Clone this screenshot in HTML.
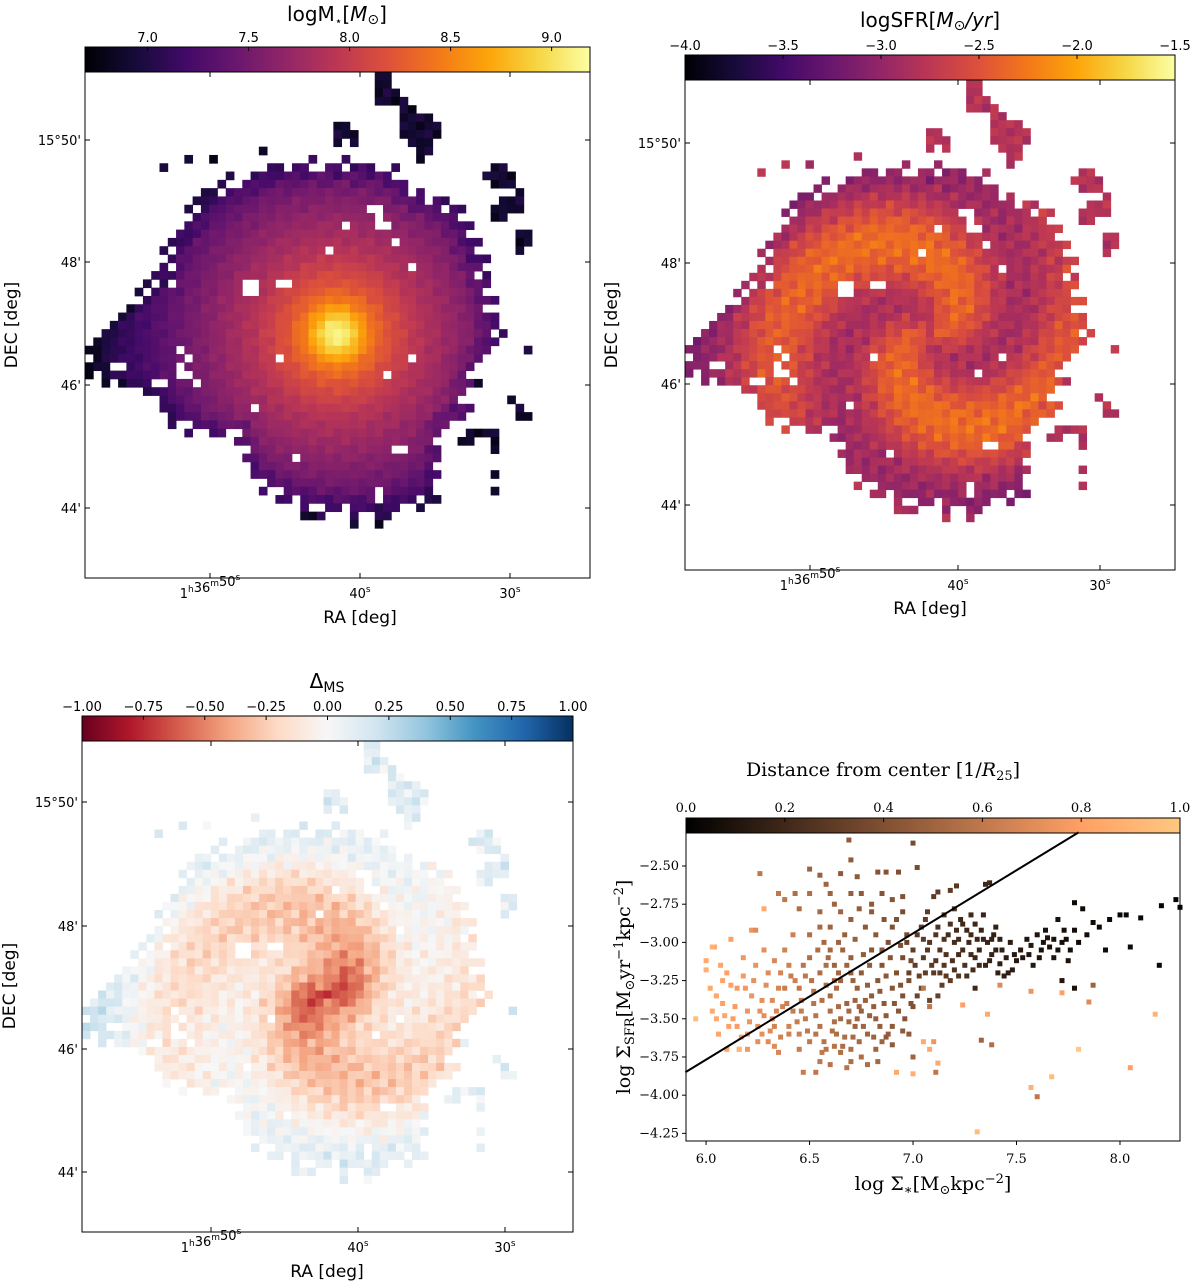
<!DOCTYPE html>
<html><head><meta charset="utf-8"><style>
body{margin:0;background:#fff}
svg{display:block}
.t{font-family:"DejaVu Sans","Liberation Sans",sans-serif;font-size:13px;fill:#000}
.ti{font-family:"DejaVu Sans","Liberation Sans",sans-serif;font-size:20px;fill:#000}
.al{font-family:"DejaVu Sans","Liberation Sans",sans-serif;font-size:17px;fill:#000}
.s{font-family:"DejaVu Serif","Liberation Serif",serif;font-size:13px;fill:#000}
.sl{font-family:"DejaVu Serif","Liberation Serif",serif;font-size:19px;fill:#000}
</style></head><body>
<svg id="fig" width="1200" height="1283" viewBox="0 0 1200 1283" xmlns="http://www.w3.org/2000/svg">
<defs>
<linearGradient id="ginf" x1="0" x2="1" y1="0" y2="0">
<stop offset="0" stop-color="#000004"/><stop offset=".1" stop-color="#160b39"/><stop offset=".2" stop-color="#420a68"/><stop offset=".3" stop-color="#6a176e"/><stop offset=".4" stop-color="#932667"/><stop offset=".5" stop-color="#bc3754"/><stop offset=".6" stop-color="#dd513a"/><stop offset=".7" stop-color="#f37819"/><stop offset=".8" stop-color="#fca50a"/><stop offset=".9" stop-color="#f6d746"/><stop offset="1" stop-color="#fcffa4"/>
</linearGradient>
<linearGradient id="grdbu" x1="0" x2="1" y1="0" y2="0">
<stop offset="0" stop-color="#67001f"/><stop offset=".1" stop-color="#b2182b"/><stop offset=".2" stop-color="#d6604d"/><stop offset=".3" stop-color="#f4a582"/><stop offset=".4" stop-color="#fddbc7"/><stop offset=".5" stop-color="#f7f7f7"/><stop offset=".6" stop-color="#d1e5f0"/><stop offset=".7" stop-color="#92c5de"/><stop offset=".8" stop-color="#4393c3"/><stop offset=".9" stop-color="#2166ac"/><stop offset="1" stop-color="#053061"/>
</linearGradient>
<linearGradient id="gcop" x1="0" x2="1" y1="0" y2="0">
<stop offset="0" stop-color="#000000"/><stop offset=".8" stop-color="#ffa065"/><stop offset="1" stop-color="#ffc77f"/>
</linearGradient>
</defs>

<text class="ti" x="337" y="21" text-anchor="middle">logM<tspan font-size="12" dy="4">⋆</tspan><tspan dy="-4">[</tspan><tspan font-style="italic">M</tspan><tspan font-size="14" dy="3">⊙</tspan><tspan dy="-3">]</tspan></text>
<rect x="85" y="47" width="505" height="25" fill="url(#ginf)" stroke="#000" stroke-width="1"/>
<g id="cb1ticks"></g>
<g id="map1"></g>
<rect x="85" y="72" width="505" height="506" fill="none" stroke="#000"/>
<g id="ax1"></g>
<text class="al" x="360" y="623" text-anchor="middle">RA [deg]</text>
<text class="al" transform="translate(17,325) rotate(-90)" text-anchor="middle">DEC [deg]</text>

<text class="ti" x="930" y="27" text-anchor="middle">logSFR[<tspan font-style="italic">M</tspan><tspan font-size="14" dy="3">⊙</tspan><tspan dy="-3" font-style="italic">/yr</tspan>]</text>
<rect x="685" y="55" width="490" height="25" fill="url(#ginf)" stroke="#000"/>
<g id="cb2ticks"></g>
<g id="map2"></g>
<rect x="685" y="80" width="490" height="490" fill="none" stroke="#000"/>
<g id="ax2"></g>
<text class="al" x="930" y="614" text-anchor="middle">RA [deg]</text>
<text class="al" transform="translate(617,325) rotate(-90)" text-anchor="middle">DEC [deg]</text>

<text class="ti" x="327" y="688" text-anchor="middle">Δ<tspan font-size="14" dy="4">MS</tspan></text>
<rect x="82" y="716" width="491" height="25" fill="url(#grdbu)" stroke="#000"/>
<g id="cb3ticks"></g>
<g id="map3"></g>
<rect x="82" y="741" width="491" height="491" fill="none" stroke="#000"/>
<g id="ax3"></g>
<text class="al" x="327" y="1277" text-anchor="middle">RA [deg]</text>
<text class="al" transform="translate(15,986) rotate(-90)" text-anchor="middle">DEC [deg]</text>

<text class="sl" x="883" y="776" text-anchor="middle">Distance from center [1/<tspan font-style="italic">R</tspan><tspan font-size="13" dy="4">25</tspan><tspan dy="-4">]</tspan></text>
<rect x="686" y="818" width="494" height="15" fill="url(#gcop)" stroke="#000"/>
<g id="cb4ticks"></g>
<g id="scat"></g>
<rect x="686" y="833" width="494" height="308" fill="none" stroke="#000"/>
<g id="ax4"></g>
<text class="sl" x="933" y="1190" text-anchor="middle">log Σ<tspan font-size="13" dy="4">∗</tspan><tspan dy="-4">[M</tspan><tspan font-size="13" dy="4">⊙</tspan><tspan dy="-4">kpc</tspan><tspan font-size="13" dy="-7">−2</tspan><tspan dy="7">]</tspan></text>
<text class="sl" transform="translate(630,987) rotate(-90)" text-anchor="middle">log Σ<tspan font-size="13" dy="4">SFR</tspan><tspan dy="-4">[M</tspan><tspan font-size="13" dy="4">⊙</tspan><tspan dy="-4">yr</tspan><tspan font-size="13" dy="-7">−1</tspan><tspan dy="7">kpc</tspan><tspan font-size="13" dy="-7">−2</tspan><tspan dy="7">]</tspan></text>
</svg>
<script>
const gridN = 61;
const centerCell = [30.4, 31.6];
const boundaryAngles = [0,15,30,45,60,75,90,105,120,135,150,165,173,182,190,197,210,225,240,255,270,285,300,315,330,345];
const boundaryRadii = [19.5,19.2,19.5,21,19.5,21,20.4,21,22,23,23,23,26,30,30,24,22,16.5,20,21,21.5,22.5,23,17.5,18,17];
const islandCells = [[35,0],[36,0],[35,1],[36,1],[35,2],[36,2],[37,2],[35,3],[36,3],[37,3],[38,3],[38,4],[39,4],[38,5],[39,5],[40,5],[41,5],[42,6],[38,6],[39,6],[40,6],[41,6],[38,7],[39,7],[40,7],[41,7],[42,7],[39,8],[40,8],[41,8],[40,9],[41,9],[40,10],[30,6],[31,6],[30,7],[31,7],[32,7],[30,8],[32,8],
[49,11],[50,11],[48,12],[49,12],[50,12],[51,12],[49,13],[50,13],[51,13],[52,14],[50,15],[51,15],[52,15],[49,16],[50,16],[51,16],[52,16],[49,17],[50,17],[52,19],[53,19],[52,20],[53,20],[52,21],
[47,37],[51,39],[52,40],[53,41],[52,41],[46,43],[47,43],[48,43],[49,43],[45,44],[46,44],[49,44],[49,45],[49,48],[49,50],[53,33],[26,53],[27,53],[32,54],[35,54],[21,9],[15,10],[12,10],[9,11]];
const holeCells = [[19,25],[20,25],[19,26],[20,26],[23,25],[24,25],[31,18],[34,16],[35,16],[35,17],[35,18],[36,18],[37,20],[29,21],[39,23],[23,34],[39,34],[36,36],[20,40],[25,46],[35,50],[35,51],[37,45],[38,45],[48,28],[11,33],[12,34],[11,35],[11,36],[12,36],[13,37],[10,23],[10,25],[3,35],[4,35],[8,37],[9,37]];
const profR = [0,2,4,6,10,15,20,25,30];
const massProfile = [9.2,8.9,8.45,8.2,7.9,7.65,7.4,7.15,7.0];
const sfrProfile = [-2.6,-2.6,-2.6,-2.6,-2.6,-2.6,-2.7,-2.85,-2.9];
const sfrArmAmp = [0.12,0.18,0.22,0.25,0.28,0.28,0.25,0.18,0.12];
const dmsProfile = [-0.65,-0.55,-0.45,-0.3,-0.2,-0.12,-0.02,0.06,0.15];
const dmsArmAmp = [0.08,0.12,0.12,0.12,0.12,0.12,0.12,0.1,0.08];

const sx=[],sy=[],sd=[];
const pts = [
[7.62,-3.05,.08],[7.65,-2.97,.1],[7.68,-3.1,.1],[7.7,-2.85,.08],[7.72,-3.0,.07],[7.75,-3.12,.09],[7.78,-2.92,.06],[7.8,-3.0,.05],[7.82,-2.78,.05],[7.84,-2.95,.06],[7.87,-2.87,.05],[7.9,-2.9,.04],[7.93,-3.05,.05],[7.95,-2.85,.04],[8.0,-2.82,.03],[8.03,-2.82,.03],[8.1,-2.84,.03],[8.2,-2.76,.02],[8.27,-2.72,.02],[8.29,-2.77,.02],[7.78,-2.74,.05],[7.56,-3.08,.1],[7.58,-3.15,.12],[7.6,-2.95,.1],[7.5,-3.12,.12],[7.52,-3.05,.12],[7.48,-3.18,.14],[7.45,-3.1,.14],[7.55,-2.98,.1],[7.63,-3.0,.09],[7.7,-3.05,.08],[7.73,-2.92,.07],[7.66,-3.03,.09],[7.42,-3.14,.15],[7.44,-3.22,.15],[7.4,-3.05,.16],[7.46,-3.2,.15],[7.72,-3.25,.1],[7.78,-3.3,.08],[8.05,-3.03,.05],[8.19,-3.15,.04],[7.3,-3.3,.2],
[7.0,-3.05,.3],[7.02,-2.95,.3],[7.05,-3.1,.28],[7.06,-2.85,.3],[7.08,-3.0,.27],[7.1,-3.2,.28],[7.12,-2.9,.25],[7.13,-3.05,.25],[7.15,-3.15,.27],[7.17,-2.95,.22],[7.18,-3.25,.3],[7.2,-3.0,.22],[7.22,-3.08,.22],[7.24,-2.88,.2],[7.25,-3.15,.24],[7.27,-3.0,.2],[7.28,-2.95,.2],[7.3,-3.1,.2],[7.32,-3.05,.18],[7.33,-2.92,.18],[7.35,-3.15,.18],[7.36,-3.0,.17],[7.38,-3.08,.17],[7.4,-2.9,.16],[7.42,-2.98,.16],[7.34,-2.82,.18],[7.23,-2.85,.2],[7.26,-3.22,.24],[7.14,-3.28,.3],[7.04,-3.3,.32],[7.08,-3.38,.34],[6.98,-3.2,.32],[6.97,-3.0,.33],[7.11,-3.12,.27],[7.19,-3.12,.24],[7.29,-3.18,.22],[7.21,-2.92,.22],[7.31,-2.98,.19],[7.2,-2.78,.25],[7.18,-2.66,.3],[7.1,-2.7,.3],[7.35,-2.62,.2],[7.07,-2.8,.3],
[6.45,-3.3,.6],[6.48,-3.5,.6],[6.5,-3.1,.55],[6.5,-3.65,.6],[6.52,-3.4,.58],[6.55,-3.2,.55],[6.55,-3.55,.57],[6.57,-3.0,.52],[6.58,-3.7,.58],[6.6,-3.35,.53],[6.6,-3.45,.55],[6.62,-3.15,.5],[6.63,-3.6,.55],[6.65,-3.25,.5],[6.65,-3.5,.52],[6.67,-2.95,.48],[6.68,-3.4,.5],[6.7,-3.7,.55],[6.7,-3.1,.47],[6.72,-3.55,.5],[6.73,-3.3,.47],[6.75,-3.2,.45],[6.75,-3.45,.48],[6.77,-2.9,.45],[6.78,-3.6,.5],[6.8,-3.35,.45],[6.8,-3.05,.43],[6.82,-3.5,.47],[6.83,-3.25,.43],[6.85,-3.15,.42],[6.86,-3.4,.44],[6.88,-3.0,.4],[6.88,-3.6,.47],[6.9,-3.3,.42],[6.9,-2.9,.4],[6.92,-3.2,.4],[6.93,-3.45,.43],[6.95,-3.1,.38],[6.95,-3.35,.4],[6.97,-2.95,.37],[6.98,-3.25,.38],[6.6,-3.8,.58],[6.65,-3.72,.55],[6.75,-3.75,.55],[6.85,-3.65,.5],[6.55,-3.78,.6],[6.45,-3.7,.62],[6.42,-3.45,.62],[6.4,-3.6,.65],[6.38,-3.3,.63],[6.6,-2.9,.5],[6.7,-2.85,.47],[6.8,-2.8,.45],[6.65,-2.8,.5],[6.55,-2.9,.53],[6.5,-2.95,.55],[6.92,-2.85,.4],[6.95,-2.8,.38],[6.62,-3.25,.52],[6.68,-3.15,.5],[6.72,-3.38,.5],[6.78,-3.28,.47],[6.58,-3.28,.55],[6.53,-3.6,.58],[6.62,-3.52,.55],[6.67,-3.62,.55],[6.74,-3.65,.52],[6.82,-3.7,.5],[6.9,-3.55,.45],[6.96,-3.5,.42],[6.47,-3.85,.62],[6.7,-3.78,.55],
[6.0,-3.12,.85],[6.0,-3.18,.88],[6.02,-3.3,.85],[6.03,-3.45,.85],[6.04,-3.03,.82],[6.06,-3.6,.83],[6.08,-3.4,.8],[6.1,-3.2,.8],[6.1,-3.7,.82],[6.12,-2.98,.8],[6.13,-3.5,.78],[6.15,-3.3,.77],[6.16,-3.7,.8],[6.18,-3.1,.76],[6.2,-3.45,.75],[6.2,-3.6,.76],[6.22,-2.92,.75],[6.23,-3.25,.73],[6.25,-3.55,.72],[6.27,-3.38,.72],[6.28,-3.05,.72],[6.3,-3.65,.7],[6.3,-3.2,.7],[6.32,-3.5,.68],[6.33,-3.12,.68],[6.35,-3.3,.67],[6.35,-3.72,.68],[6.37,-3.42,.66],[6.38,-3.05,.66],[6.4,-3.15,.65],[6.4,-3.55,.66],[6.42,-2.95,.64],[6.43,-3.25,.64],[6.45,-3.6,.64],[6.15,-3.55,.78],[6.25,-3.65,.72],[6.05,-3.5,.85],[6.08,-3.25,.82],[6.22,-3.35,.75],[6.28,-3.48,.72],[6.32,-3.38,.7],[6.18,-3.22,.77],[5.95,-3.5,.95],[6.03,-3.03,.9],[6.28,-2.78,.85],[6.16,-3.7,.92],[6.24,-2.92,.7],[6.35,-2.68,.6],[6.38,-2.72,.6],[6.26,-2.55,.6],
[6.5,-2.52,.5],[6.55,-2.56,.48],[6.65,-2.55,.45],[6.69,-2.33,.45],[6.7,-2.46,.45],[6.73,-2.57,.45],[6.83,-2.54,.42],[6.87,-2.54,.42],[6.93,-2.54,.4],[7.0,-2.35,.38],[7.02,-2.51,.38],[6.6,-2.68,.5],[6.7,-2.68,.47],[6.75,-2.68,.45],[6.85,-2.68,.42],[6.9,-2.72,.42],[6.95,-2.7,.4],[7.12,-2.67,.3],[7.21,-2.63,.28],[7.37,-2.61,.2],[6.45,-2.78,.55],[6.55,-2.8,.52],[6.62,-2.75,.5],[6.8,-2.75,.45],[6.5,-2.68,.55],[6.43,-2.68,.55],[6.58,-2.62,.5],
[6.53,-3.85,.6],[6.92,-3.85,.85],[7.0,-3.86,.88],[7.0,-3.75,.5],[7.11,-3.85,.6],[7.12,-3.79,.85],[7.08,-3.7,.85],[7.05,-3.65,.85],[7.1,-3.65,.75],[7.24,-3.41,.8],[7.36,-3.47,.85],[7.33,-3.64,.5],[7.38,-3.67,.55],[7.42,-3.28,.7],[7.57,-3.32,.75],[7.57,-3.95,.9],[7.6,-4.01,.6],[7.67,-3.88,.95],[7.72,-3.33,.8],[7.8,-3.7,1.0],[7.85,-3.39,.7],[7.87,-3.28,.5],[8.05,-3.82,.8],[8.17,-3.47,.9],[7.31,-4.24,.95],[7.05,-3.3,.6],[7.08,-3.42,.6],[6.95,-3.58,.45],[6.98,-3.6,.45],[7.0,-3.42,.4],[6.87,-3.62,.45],[6.9,-3.67,.45],
[6.33,-3.55,.66],[6.36,-3.62,.65],[6.39,-3.4,.64],[6.41,-3.22,.62],[6.44,-3.52,.62],[6.46,-3.38,.6],[6.47,-3.15,.58],[6.49,-3.58,.6],[6.51,-3.25,.57],[6.53,-3.48,.58],[6.54,-3.05,.55],[6.56,-3.38,.56],[6.57,-3.65,.58],[6.59,-3.1,.53],[6.61,-3.58,.56],[6.63,-3.3,.53],[6.64,-3.42,.54],[6.66,-3.05,.5],[6.66,-3.68,.55],[6.69,-3.52,.52],[6.71,-3.25,.49],[6.71,-3.62,.53],[6.74,-3.42,.5],[6.76,-3.08,.46],[6.76,-3.55,.5],[6.79,-3.15,.46],[6.79,-3.48,.48],[6.81,-3.62,.5],[6.84,-3.32,.45],[6.84,-3.55,.47],[6.87,-3.22,.44],[6.87,-3.48,.45],[6.89,-3.1,.42],[6.91,-3.4,.43],[6.94,-3.28,.41],[6.94,-3.02,.4],[6.99,-3.12,.36],[6.99,-3.4,.4],[6.56,-3.72,.6],[6.62,-3.68,.57],[6.68,-3.82,.58],[6.78,-3.8,.55],[6.83,-3.78,.52],[6.58,-3.15,.55],[6.52,-3.32,.58],[6.48,-3.22,.6],[6.46,-3.45,.62],[6.64,-3.0,.5],[6.72,-2.98,.48],[6.82,-2.95,.44],[6.86,-2.85,.42],[6.74,-2.78,.46],[6.6,-3.05,.52],[6.69,-3.45,.52],[6.73,-3.5,.5],[6.77,-3.38,.48],[6.81,-3.42,.47],[6.85,-3.05,.43],[6.7,-3.2,.48],[6.64,-3.2,.52],
[7.01,-3.15,.3],[7.03,-3.22,.32],[7.05,-2.98,.3],[7.07,-3.05,.28],[7.09,-3.15,.28],[7.11,-2.95,.26],[7.13,-3.2,.28],[7.15,-2.98,.25],[7.16,-3.08,.25],[7.18,-2.88,.24],[7.2,-3.18,.25],[7.22,-2.98,.22],[7.24,-3.05,.22],[7.26,-2.92,.2],[7.28,-3.08,.21],[7.3,-2.88,.19],[7.32,-3.15,.2],[7.34,-2.98,.18],[7.37,-3.12,.17],[7.39,-2.95,.16],[7.41,-3.2,.16],[7.43,-3.05,.15],[7.47,-3.0,.14],[7.49,-3.08,.13],[7.53,-3.1,.12],[7.57,-3.02,.11],[7.61,-3.1,.1],[7.64,-2.92,.09],[7.68,-2.98,.08],[7.74,-2.98,.07],[7.76,-3.05,.07],[7.06,-3.2,.3],[7.12,-3.35,.32],[7.16,-3.22,.28],[7.22,-3.22,.26],[7.02,-3.35,.34],[7.28,-2.82,.2],[7.15,-2.82,.25],[7.04,-2.9,.3],[7.38,-2.98,.17],
[6.05,-3.35,.84],[6.07,-3.15,.83],[6.11,-3.55,.8],[6.14,-3.42,.78],[6.17,-3.62,.79],[6.19,-3.3,.76],[6.21,-3.52,.75],[6.24,-3.15,.74],[6.26,-3.45,.73],[6.29,-3.28,.71],[6.31,-3.58,.7],[6.34,-3.45,.68],[6.36,-3.2,.67],[6.12,-3.28,.8],[6.09,-3.48,.82],[6.27,-3.6,.72],[6.33,-3.68,.7],[6.2,-3.7,.76]];
pts.forEach(p=>{sx.push(p[0]);sy.push(p[1]);sd.push(p[2]);});
const fitLineX = [5.9, 7.8];
const fitLineY = [-3.85, -2.28];

const cb1Ticks=[7.0,7.5,8.0,8.5,9.0];
const cb2Ticks=[-4.0,-3.5,-3.0,-2.5,-2.0,-1.5];
const cb3Ticks=[-1.0,-0.75,-0.5,-0.25,0,0.25,0.5,0.75,1.0];
const cb4Ticks=[0,0.2,0.4,0.6,0.8,1.0];
const scatXTicks=[6.0,6.5,7.0,7.5,8.0];
const scatYTicks=[-2.5,-2.75,-3.0,-3.25,-3.5,-3.75,-4.0,-4.25];
const decTickLabels=["15°50'","48'","46'","44'"];
const raTickLabels=[["1","h","36","m","50","s"],["40","s"],["30","s"]];

const NS="http://www.w3.org/2000/svg";
function mk(tag,parent,attrs){const e=document.createElementNS(NS,tag);for(const k in attrs)e.setAttribute(k,attrs[k]);parent.appendChild(e);return e;}
function lerpColor(stops,t){t=Math.max(0,Math.min(1,t));const n=stops.length-1;const i=Math.min(n-1,Math.floor(t*n));const f=t*n-i;
 const a=stops[i],b=stops[i+1];const h=s=>[parseInt(s.substr(1,2),16),parseInt(s.substr(3,2),16),parseInt(s.substr(5,2),16)];
 const A=h(a),B=h(b);return 'rgb('+A.map((v,j)=>Math.round(v+(B[j]-v)*f)).join(',')+')';}
const inferno=["#000004","#160b39","#420a68","#6a176e","#932667","#bc3754","#dd513a","#f37819","#fca50a","#f6d746","#fcffa4"];
const rdbu=["#67001f","#b2182b","#d6604d","#f4a582","#fddbc7","#f7f7f7","#d1e5f0","#92c5de","#4393c3","#2166ac","#053061"];
function copper(t){t=Math.max(0,Math.min(1,t));return 'rgb('+Math.round(255*Math.min(1,1.25*t))+','+Math.round(255*0.7812*t)+','+Math.round(255*0.4975*t)+')';}
function interp(xs,ys,x){if(x<=xs[0])return ys[0];for(let i=1;i<xs.length;i++){if(x<=xs[i]){const f=(x-xs[i-1])/(xs[i]-xs[i-1]);return ys[i-1]+f*(ys[i]-ys[i-1]);}}return ys[ys.length-1];}
const islandSet=new Set(islandCells.map(c=>c[0]+','+c[1]));
const holeSet=new Set(holeCells.map(c=>c[0]+','+c[1]));
function cellInfo(c,r){const dx=c+0.5-centerCell[0],dy=-(r+0.5-centerCell[1]);const d=Math.hypot(dx,dy);let a=Math.atan2(dy,dx)*180/Math.PI;if(a<0)a+=360;
 const bx=boundaryAngles.concat([360]),by=boundaryRadii.concat([boundaryRadii[0]]);const rb=interp(bx,by,a)+0.9*Math.cos(1.7*c+2.3*r);
 const key=c+','+r;const inside=(d<=rb&&!holeSet.has(key))||islandSet.has(key);return {inside,d,rb,theta:Math.atan2(dy,dx),island:islandSet.has(key)&&d>rb};}
function tex(c,r){return Math.cos(2.1*c+1.3*r)*Math.cos(0.9*c-1.7*r)+0.5*Math.sin(3.7*c*0.5+2.9*r*0.7);}

function drawMap(gid,x0,y0,w,h,valueFn,colorFn,name){
 const g=document.getElementById(gid);const cw=w/gridN,ch=h/gridN;
 for(let r=0;r<gridN;r++)for(let c=0;c<gridN;c++){const info=cellInfo(c,r);if(!info.inside)continue;
  const v=valueFn(info,c,r);
  const e=mk('rect',g,{x:(x0+c*cw).toFixed(2),y:(y0+r*ch).toFixed(2),width:(cw+0.4).toFixed(2),height:(ch+0.4).toFixed(2),fill:colorFn(v)});
  
  }
}
function armPhase(info){return 2*info.theta-0.32*info.d;}
function edge(i){return Math.max(0,i.d-(i.rb-3))/3;}
drawMap('map1',85,72,505,506,(i,c,r)=>{let v=interp(profR,massProfile,i.d)+0.05*tex(c,r)-0.25*Math.min(1,edge(i));if(i.island)v=6.9+0.1*tex(c,r);return v;},v=>lerpColor(inferno,(v-6.69)/2.5),'mass');
drawMap('map2',685,80,490,490,(i,c,r)=>{let v=interp(profR,sfrProfile,i.d)+interp(profR,sfrArmAmp,i.d)*Math.cos(armPhase(i))+0.12*tex(c,r)-0.1*Math.min(1,edge(i));if(i.island)v=-2.8+0.1*tex(c,r);return v;},v=>lerpColor(inferno,(v+4)/2.5),'sfr');
drawMap('map3',82,741,491,491,(i,c,r)=>{let v=interp(profR,dmsProfile,i.d)-interp(profR,dmsArmAmp,i.d)*Math.cos(armPhase(i))+0.09*tex(c,r);if(i.island)v=0.12+0.1*tex(c,r);return v;},v=>lerpColor(rdbu,(v+1)/2),'delta-ms');

function cbTicks(gid,ticks,x0,w,lo,hi,yTop,yBot,labelY,fmt,cls){const g=document.getElementById(gid);
 ticks.forEach(t=>{const x=x0+(t-lo)/(hi-lo)*w;
  const l=mk('line',g,{x1:x,x2:x,y1:yTop,y2:yTop+4,stroke:'#000'});
  
  
  const tx=mk('text',g,{x:x,y:labelY,'text-anchor':'middle',class:cls});tx.textContent=fmt(t);
  
  });}
const m=s=>s.replace('-','−');
cbTicks('cb1ticks',cb1Ticks,85,505,6.69,9.19,47,72,42,t=>t.toFixed(1),'t');
cbTicks('cb2ticks',cb2Ticks,685,490,-4,-1.5,55,80,50,t=>m(t.toFixed(1)),'t');
cbTicks('cb3ticks',cb3Ticks,82,491,-1,1,716,741,711,t=>m(t.toFixed(2)),'t');
cbTicks('cb4ticks',cb4Ticks,686,494,0,1,818,833,812,t=>t.toFixed(1),'s');

function mapAxes(gid,x0,y0,w,h,decY,raX){const g=document.getElementById(gid);
 decY.forEach((y,i)=>{mk('line',g,{x1:x0,x2:x0+5,y1:y0+y,y2:y0+y,stroke:'#000'});mk('line',g,{x1:x0+w-5,x2:x0+w,y1:y0+y,y2:y0+y,stroke:'#000'});
  const t=mk('text',g,{x:x0-4,y:y0+y+5,'text-anchor':'end',class:'t'});t.textContent=decTickLabels[i];
  
  });
 raX.forEach((x,i)=>{mk('line',g,{x1:x0+x,x2:x0+x,y1:y0+h-5,y2:y0+h,stroke:'#000'});mk('line',g,{x1:x0+x,x2:x0+x,y1:y0,y2:y0+5,stroke:'#000'});
  const t=mk('text',g,{x:x0+x,y:y0+h+20,'text-anchor':'middle',class:'t'});const p=raTickLabels[i];
  for(let k=0;k<p.length;k+=2){const a=mk('tspan',t,{});a.textContent=p[k];const b=mk('tspan',t,{'font-size':'9',dy:'-6'});b.textContent=p[k+1];const z=mk('tspan',t,{dy:'6'});z.textContent='';}
  
  });}
mapAxes('ax1',85,72,505,506,[68,190,313,436],[125,275,425]);
mapAxes('ax2',685,80,490,490,[63,183,304,425],[125,273,415]);
mapAxes('ax3',82,741,491,491,[61,185,308,431],[129,276,423]);

const sxMin=5.903,sxMax=8.29,syMin=-4.30,syMax=-2.284;
const X=v=>686+(v-sxMin)/(sxMax-sxMin)*494;
const Y=v=>1141-(v-syMin)/(syMax-syMin)*308;
const sg=document.getElementById('scat');
for(let i=0;i<sx.length;i++){const e=mk('rect',sg,{x:(X(sx[i])-2.5).toFixed(1),y:(Y(sy[i])-2.5).toFixed(1),width:5,height:5,fill:copper(sd[i])});
 
 }
const fl=mk('line',sg,{x1:X(fitLineX[0]),y1:Y(fitLineY[0]),x2:X(fitLineX[1]),y2:Y(fitLineY[1]),stroke:'#000','stroke-width':2});


const a4=document.getElementById('ax4');
scatXTicks.forEach(v=>{mk('line',a4,{x1:X(v),x2:X(v),y1:1141,y2:1145,stroke:'#000'});const t=mk('text',a4,{x:X(v),y:1163,'text-anchor':'middle',class:'s'});t.textContent=v.toFixed(1);
 
 });
scatYTicks.forEach(v=>{mk('line',a4,{x1:682,x2:686,y1:Y(v),y2:Y(v),stroke:'#000'});const t=mk('text',a4,{x:679,y:Y(v)+4,'text-anchor':'end',class:'s'});t.textContent=m(v.toFixed(2));
 
 });
</script>
</body></html>
